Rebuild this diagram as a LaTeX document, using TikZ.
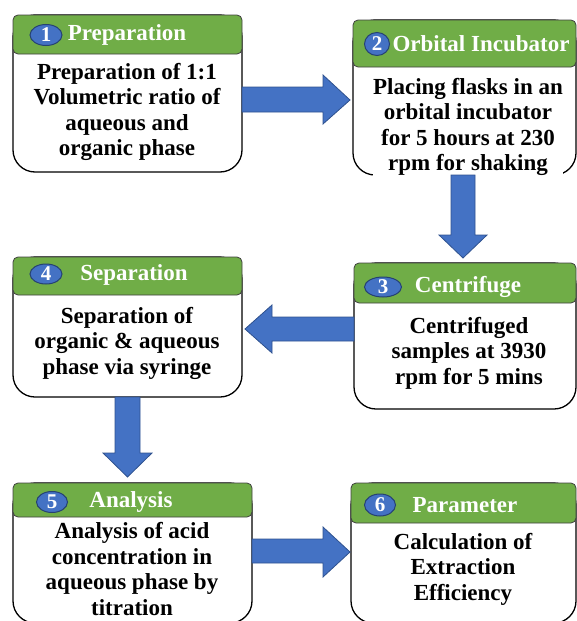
\documentclass[tikz,border=0pt]{standalone}
\usepackage{fontspec}
\setmainfont{Liberation Serif}
\usetikzlibrary{shapes.geometric}
\definecolor{hdr}{HTML}{70AD47}
\definecolor{arr}{HTML}{4472C4}
\definecolor{arrline}{HTML}{2F528F}
\begin{document}
\begin{tikzpicture}[x=1pt,y=-1pt,
  bodybox/.style={draw=black, line width=1.3pt, fill=white, rounded corners=22pt},
  headbox/.style={draw=black!75, line width=0.8pt, fill=hdr, rounded corners=5pt},
  numnode/.style={ellipse, draw=arrline!80!black, line width=1pt, fill=arr, text=white,
    font=\bfseries\fontsize{21}{21}\selectfont, inner sep=0pt},
  htext/.style={text=white, font=\bfseries\fontsize{23}{23}\selectfont, inner sep=0pt},
  btext/.style={align=center, font=\bfseries\fontsize{23}{25.5}\selectfont, inner sep=0pt},
  blockarrow/.style={fill=arr, draw=arrline, line width=0.8pt, line join=miter}]
\clip (0,0) rectangle (577,621);
% boxes
\path[bodybox] (13,15) rectangle (242,172);
\path[headbox] (13,15) rectangle (242,54);
\path[bodybox] (353,20) rectangle (576,175);
\path[headbox] (353,20) rectangle (576,67);
\path[bodybox] (354,263) rectangle (576,409);
\path[headbox] (354,263) rectangle (576,303);
\path[bodybox] (13,257) rectangle (242,397);
\path[headbox] (13,257) rectangle (242,295);
\path[bodybox] (13,483) rectangle (252,623);
\path[headbox] (13,483) rectangle (252,517);
\path[bodybox] (351,483) rectangle (576,623);
\path[headbox] (351,483) rectangle (576,523);
% numbers
\node[numnode, minimum width=32pt, minimum height=21pt] (n1) at (46,35) {1};
\node[numnode, minimum width=25pt, minimum height=23pt] (n2) at (377,44) {2};
\node[numnode, minimum width=37pt, minimum height=20pt] (n3) at (383,287) {3};
\node[numnode, minimum width=32pt, minimum height=20pt] (n4) at (46,274) {4};
\node[numnode, minimum width=31pt, minimum height=21pt] (n5) at (52,502) {5};
\node[numnode, minimum width=31pt, minimum height=22pt] (n6) at (380,505) {6};
% header titles
\node[htext] (h1) at (127,35) {Preparation};
\node[htext] (h2) at (481,44) {Orbital Incubator};
\node[htext] (h3) at (468,287) {Centrifuge};
\node[htext] (h4) at (134,275) {Separation};
\node[htext] (h5) at (131,502) {Analysis};
\node[htext] (h6) at (465,505) {Parameter};
% body texts
\node[btext] (t1) at (127,112) {Preparation of 1:1\\Volumetric ratio of\\aqueous and\\organic phase};
\node[btext, fill=white] (t2) at (468,127) {Placing flasks in an\\orbital incubator\\for 5 hours at 230\\rpm for shaking};
\node[btext] (t3) at (469,353) {Centrifuged\\samples at 3930\\rpm for 5 mins};
\node[btext] (t4) at (127,343) {Separation of\\organic \& aqueous\\phase via syringe};
\node[btext] (t5) at (132,569) {Analysis of acid\\concentration in\\aqueous phase by\\titration};
\node[btext] (t6) at (463,569) {Calculation of\\Extraction\\Efficiency};
% block arrows
\path[blockarrow] (242,87) -- (323,87) -- (323,75) -- (350,100) -- (323,124) -- (323,112) -- (242,112) -- cycle;
\path[blockarrow] (451,175) -- (451,235) -- (439,235) -- (463,258) -- (487,235) -- (475,235) -- (475,175) -- cycle;
\path[blockarrow] (354,317) -- (272,317) -- (272,305) -- (245,329) -- (272,353) -- (272,341) -- (354,341) -- cycle;
\path[blockarrow] (115,397) -- (115,453) -- (103,453) -- (127.5,477) -- (152,453) -- (140,453) -- (140,397) -- cycle;
\path[blockarrow] (252,539) -- (323,539) -- (323,527) -- (350,552) -- (323,577) -- (323,563) -- (252,563) -- cycle;
\end{tikzpicture}
\end{document}
